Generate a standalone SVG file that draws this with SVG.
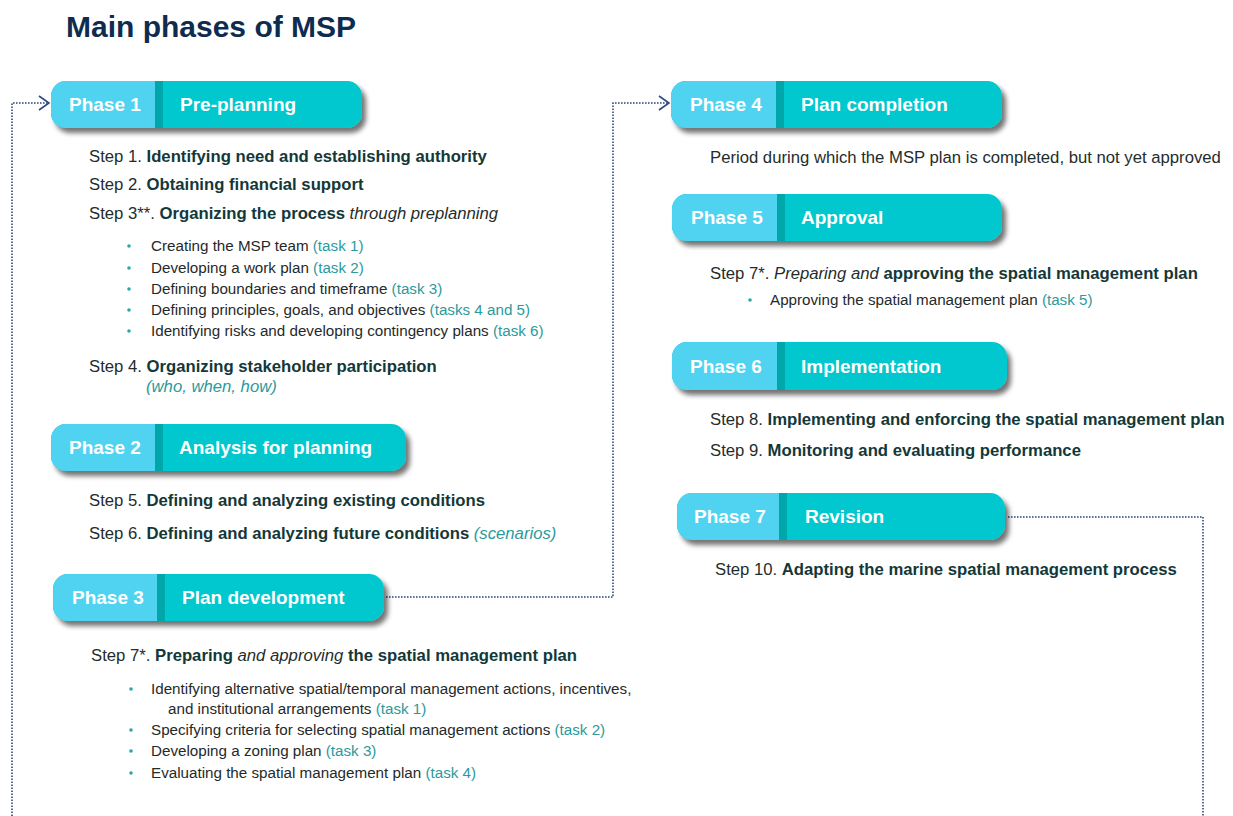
<svg xmlns="http://www.w3.org/2000/svg" width="1233" height="816" viewBox="0 0 1233 816">
  <defs>
    <filter id="pillShadow" x="-10%" y="-30%" width="130%" height="180%">
      <feGaussianBlur in="SourceAlpha" stdDeviation="2.5"/>
      <feOffset dx="4" dy="5" result="blur"/>
      <feComponentTransfer><feFuncA type="linear" slope="0.55"/></feComponentTransfer>
      <feMerge><feMergeNode/><feMergeNode in="SourceGraphic"/></feMerge>
    </filter>
    <marker id="chevron" viewBox="0 0 12 16" refX="11" refY="8" markerWidth="12" markerHeight="16" markerUnits="userSpaceOnUse" orient="auto">
      <path d="M1,1 L11,8 L1,15" fill="none" stroke="#2a4a7e" stroke-width="1.6"/>
    </marker>
  </defs>
  <style>
    text { font-family: "Liberation Sans", Arial, sans-serif; }
    .title { font-size: 30px; font-weight: bold; fill: #0e2b50; }
    .ph { font-size: 19px; font-weight: bold; fill: #ffffff; }
    .left { fill: #4fd3f1; }
    .right { fill: #00c8ce; }
    .div { fill: #00a7aa; }
    .step { font-size: 16.7px; fill: #1f2d2d; }
    .b { font-weight: bold; fill: #143838; }
    .i { font-style: italic; }
    .teal { fill: #2b9a9c; }
    .sub { font-size: 15.2px; fill: #1f2a2a; }
    .dot { fill: #2aa8aa; }
    .conn { fill: none; stroke: #2a4a7e; stroke-width: 1.6; stroke-dasharray: 1.6 1.4; }
  </style>

  <rect width="1233" height="816" fill="#ffffff"/>

  <text class="title" x="66" y="37">Main phases of MSP</text>

  <!-- connectors -->
  <g id="connectors">
    <path class="conn" d="M12,816 V103 H49" marker-end="url(#chevron)"/>
    <path class="conn" d="M386,597 H613 V103 H669" marker-end="url(#chevron)"/>
    <path class="conn" d="M1008,517 H1203 V816"/>
  </g>

  <!-- Phase 1 -->
  <g id="phase1">
    <g filter="url(#pillShadow)">
      <rect class="right" x="51" y="81" width="311" height="47" rx="15"/>
      <path class="left" d="M66,81 H155 V128 H66 A15,15 0 0 1 51,113 V96 A15,15 0 0 1 66,81 Z"/>
      <rect class="div" x="155" y="81" width="8" height="47"/>
    </g>
    <text class="ph" x="69" y="111">Phase 1</text>
    <text class="ph" x="180" y="111">Pre-planning</text>
    <text class="step" x="89" y="162">Step 1. <tspan class="b">Identifying need and establishing authority</tspan></text>
    <text class="step" x="89" y="190">Step 2. <tspan class="b">Obtaining financial support</tspan></text>
    <text class="step" x="89" y="219">Step 3**. <tspan class="b">Organizing the process</tspan> <tspan class="i">through preplanning</tspan></text>
    <g class="sub">
      <circle class="dot" cx="129" cy="246" r="1.8"/>
      <text class="sub" x="151" y="251">Creating the MSP team <tspan class="teal">(task 1)</tspan></text>
      <circle class="dot" cx="129" cy="268" r="1.8"/>
      <text class="sub" x="151" y="273">Developing a work plan <tspan class="teal">(task 2)</tspan></text>
      <circle class="dot" cx="129" cy="289" r="1.8"/>
      <text class="sub" x="151" y="294">Defining boundaries and timeframe <tspan class="teal">(task 3)</tspan></text>
      <circle class="dot" cx="129" cy="310" r="1.8"/>
      <text class="sub" x="151" y="315">Defining principles, goals, and objectives <tspan class="teal">(tasks 4 and 5)</tspan></text>
      <circle class="dot" cx="129" cy="331" r="1.8"/>
      <text class="sub" x="151" y="336">Identifying risks and developing contingency plans <tspan class="teal">(task 6)</tspan></text>
    </g>
    <text class="step" x="89" y="372">Step 4. <tspan class="b">Organizing stakeholder participation</tspan></text>
    <text class="step i teal" x="146" y="392">(who, when, how)</text>
  </g>

  <!-- Phase 2 -->
  <g id="phase2">
    <g filter="url(#pillShadow)">
      <rect class="right" x="51" y="424" width="355" height="47" rx="15"/>
      <path class="left" d="M66,424 H155 V471 H66 A15,15 0 0 1 51,456 V439 A15,15 0 0 1 66,424 Z"/>
      <rect class="div" x="155" y="424" width="8" height="47"/>
    </g>
    <text class="ph" x="69" y="454">Phase 2</text>
    <text class="ph" x="179" y="454">Analysis for planning</text>
    <text class="step" x="89" y="506">Step 5. <tspan class="b">Defining and analyzing existing conditions</tspan></text>
    <text class="step" x="89" y="539">Step 6. <tspan class="b">Defining and analyzing future conditions</tspan> <tspan class="i teal">(scenarios)</tspan></text>
  </g>

  <!-- Phase 3 -->
  <g id="phase3">
    <g filter="url(#pillShadow)">
      <rect class="right" x="53" y="574" width="331" height="47" rx="15"/>
      <path class="left" d="M68,574 H157 V621 H68 A15,15 0 0 1 53,606 V589 A15,15 0 0 1 68,574 Z"/>
      <rect class="div" x="157" y="574" width="8" height="47"/>
    </g>
    <text class="ph" x="72" y="604">Phase 3</text>
    <text class="ph" x="182" y="604">Plan development</text>
    <text class="step" x="91" y="661">Step 7*. <tspan class="b">Preparing</tspan> <tspan class="i">and approving</tspan> <tspan class="b">the spatial management plan</tspan></text>
    <circle class="dot" cx="131" cy="689" r="1.8"/>
    <text class="sub" x="151" y="694">Identifying alternative spatial/temporal management actions, incentives,</text>
    <text class="sub" x="168" y="714">and institutional arrangements <tspan class="teal">(task 1)</tspan></text>
    <circle class="dot" cx="131" cy="730" r="1.8"/>
    <text class="sub" x="151" y="735">Specifying criteria for selecting spatial management actions <tspan class="teal">(task 2)</tspan></text>
    <circle class="dot" cx="131" cy="751" r="1.8"/>
    <text class="sub" x="151" y="756">Developing a zoning plan <tspan class="teal">(task 3)</tspan></text>
    <circle class="dot" cx="131" cy="773" r="1.8"/>
    <text class="sub" x="151" y="778">Evaluating the spatial management plan <tspan class="teal">(task 4)</tspan></text>
  </g>

  <!-- Phase 4 -->
  <g id="phase4">
    <g filter="url(#pillShadow)">
      <rect class="right" x="671" y="81" width="331" height="47" rx="15"/>
      <path class="left" d="M686,81 H776 V128 H686 A15,15 0 0 1 671,113 V96 A15,15 0 0 1 686,81 Z"/>
      <rect class="div" x="776" y="81" width="8" height="47"/>
    </g>
    <text class="ph" x="690" y="111">Phase 4</text>
    <text class="ph" x="801" y="111">Plan completion</text>
    <text class="step" x="710" y="163" fill="#1f3535">Period during which the MSP plan is completed, but not yet approved</text>
  </g>

  <!-- Phase 5 -->
  <g id="phase5">
    <g filter="url(#pillShadow)">
      <rect class="right" x="672" y="194" width="330" height="47" rx="15"/>
      <path class="left" d="M687,194 H777 V241 H687 A15,15 0 0 1 672,226 V209 A15,15 0 0 1 687,194 Z"/>
      <rect class="div" x="777" y="194" width="8" height="47"/>
    </g>
    <text class="ph" x="691" y="224">Phase 5</text>
    <text class="ph" x="801" y="224">Approval</text>
    <text class="step" x="710" y="279">Step 7*. <tspan class="i">Preparing and</tspan> <tspan class="b">approving the spatial management plan</tspan></text>
    <circle class="dot" cx="750" cy="300" r="1.8"/>
    <text class="sub" x="770" y="305">Approving the spatial management plan <tspan class="teal">(task 5)</tspan></text>
  </g>

  <!-- Phase 6 -->
  <g id="phase6">
    <g filter="url(#pillShadow)">
      <rect class="right" x="672" y="342" width="335" height="48" rx="15"/>
      <path class="left" d="M687,342 H777 V390 H687 A15,15 0 0 1 672,375 V357 A15,15 0 0 1 687,342 Z"/>
      <rect class="div" x="777" y="342" width="8" height="48"/>
    </g>
    <text class="ph" x="690" y="373">Phase 6</text>
    <text class="ph" x="801" y="373">Implementation</text>
    <text class="step" x="710" y="425">Step 8. <tspan class="b">Implementing and enforcing the spatial management plan</tspan></text>
    <text class="step" x="710" y="456">Step 9. <tspan class="b">Monitoring and evaluating performance</tspan></text>
  </g>

  <!-- Phase 7 -->
  <g id="phase7">
    <g filter="url(#pillShadow)">
      <rect class="right" x="677" y="493" width="328" height="47" rx="15"/>
      <path class="left" d="M692,493 H779 V540 H692 A15,15 0 0 1 677,525 V508 A15,15 0 0 1 692,493 Z"/>
      <rect class="div" x="779" y="493" width="8" height="47"/>
    </g>
    <text class="ph" x="694" y="523">Phase 7</text>
    <text class="ph" x="805" y="523">Revision</text>
    <text class="step" x="715" y="575">Step 10. <tspan class="b">Adapting the marine spatial management process</tspan></text>
  </g>
</svg>
